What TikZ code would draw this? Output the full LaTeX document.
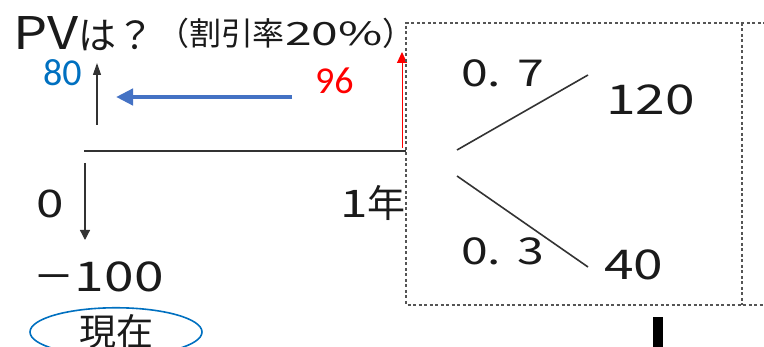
\documentclass[tikz,border=0pt]{standalone}
\usepackage{fontspec}
\usepackage{graphicx}
\setmainfont{Noto Sans CJK JP}
\newfontfamily\calfont{Carlito}
\usetikzlibrary{arrows.meta,shapes.geometric}
\definecolor{ink}{HTML}{1A1A1A}
\definecolor{linegray}{HTML}{333333}
\definecolor{boxgray}{HTML}{555555}
\definecolor{arrowblue}{HTML}{4472C4}
\definecolor{textblue}{HTML}{0070C0}
\definecolor{textred}{HTML}{FF0000}
\newcommand\widen[1]{\scalebox{1.3}[1]{#1}}
\newcommand\widenmore[1]{\scalebox{1.5}[1]{#1}}
\tikzset{
  lbl/.style={inner sep=0pt, outer sep=0pt, text=ink, anchor=base west},
  numlbl/.style={lbl, font=\fontsize{41}{41}\selectfont},
  flow/.style={line width=1.2pt, draw=linegray},
  branch/.style={line width=1.6pt, draw=linegray},
  dashbox/.style={line width=1.7pt, draw=boxgray, dash pattern=on 3pt off 2.5pt},
}
\begin{document}
\begin{tikzpicture}[x=1pt,y=-1pt]
\useasboundingbox (0,0) rectangle (764,347);
% titles
\node[lbl, font=\fontsize{38}{38}\selectfont] (pv) at (13,50) {\scalebox{1.2}[1]{\fontsize{45}{45}\selectfont PV}は？};
\node[lbl, font=\fontsize{32}{32}\selectfont] (rate) at (157,46) {（割引率\widenmore{20\%}）};
% values
\node[lbl, text=textblue, font=\calfont\fontsize{38}{38}\selectfont] (v80) at (43,86) {80};
\node[lbl, text=textred, font=\calfont\fontsize{38}{38}\selectfont] (v96) at (315,94) {96};
% timeline
\coordinate (t0) at (84,151);
\coordinate (t1) at (406,151);
\draw[line width=1.6pt, linegray] (t0) -- (t1);
\node[numlbl, font=\fontsize{38}{38}\selectfont] (z) at (36,218) {\widen{0}};
\node[numlbl, font=\fontsize{38}{38}\selectfont] (y1) at (340,218) {\widen{1}年};
\node[numlbl] (m100) at (34,292) {－\widen{100}};
\node[ellipse, draw=textblue, line width=1.6pt, minimum width=172pt, minimum height=48pt, inner sep=0pt, text=ink, font=\fontsize{37}{37}\selectfont] (now) at (116,332) {現在};
% arrows
\coordinate (upS) at (97,125);
\coordinate (upE) at (97,63);
\draw[flow, -{Triangle[length=12pt,width=8pt]}] (upS) -- (upE);
\coordinate (dnS) at (85,163);
\coordinate (dnE) at (85,240);
\draw[flow, -{Triangle[length=10pt,width=10pt]}] (dnS) -- (dnE);
\coordinate (blS) at (292,97);
\coordinate (blE) at (116,97);
\draw[line width=4.5pt, arrowblue, -{Triangle[length=17pt,width=16pt]}] (blS) -- (blE);
\coordinate (rdS) at (402,148);
\coordinate (rdE) at (402,52);
\draw[line width=1pt, textred, -{Triangle[length=11pt,width=10pt]}] (rdS) -- (rdE);
% dashed boxes
\coordinate (bTL) at (406,23);
\coordinate (bBL) at (406,305);
\coordinate (bTR) at (742,23);
\coordinate (bBR) at (742,305);
\coordinate (bTX) at (766,23);
\coordinate (bBX) at (766,305);
\draw[dashbox] (bTX) -- (bTL) -- (bBL) -- (bBX);
\draw[dashbox] (bTR) -- (bBR);
% tree
\coordinate (r1) at (457,150);
\coordinate (u1) at (588,75);
\coordinate (r2) at (457,176);
\coordinate (d1) at (588,267);
\draw[branch] (r1) -- (u1);
\draw[branch] (r2) -- (d1);
\node[numlbl, font=\fontsize{37}{37}\selectfont] (p7) at (461,87) {\widen{0.\,\,7}};
\node[numlbl] (v120) at (606,115) {\widen{120}};
\node[numlbl, font=\fontsize{37}{37}\selectfont] (p3) at (461,265) {\widen{0.\,\,3}};
\node[numlbl] (v40) at (604,280) {\widen{40}};
% bar
\fill[black] (653,317) rectangle (663,347);
\end{tikzpicture}
\end{document}
